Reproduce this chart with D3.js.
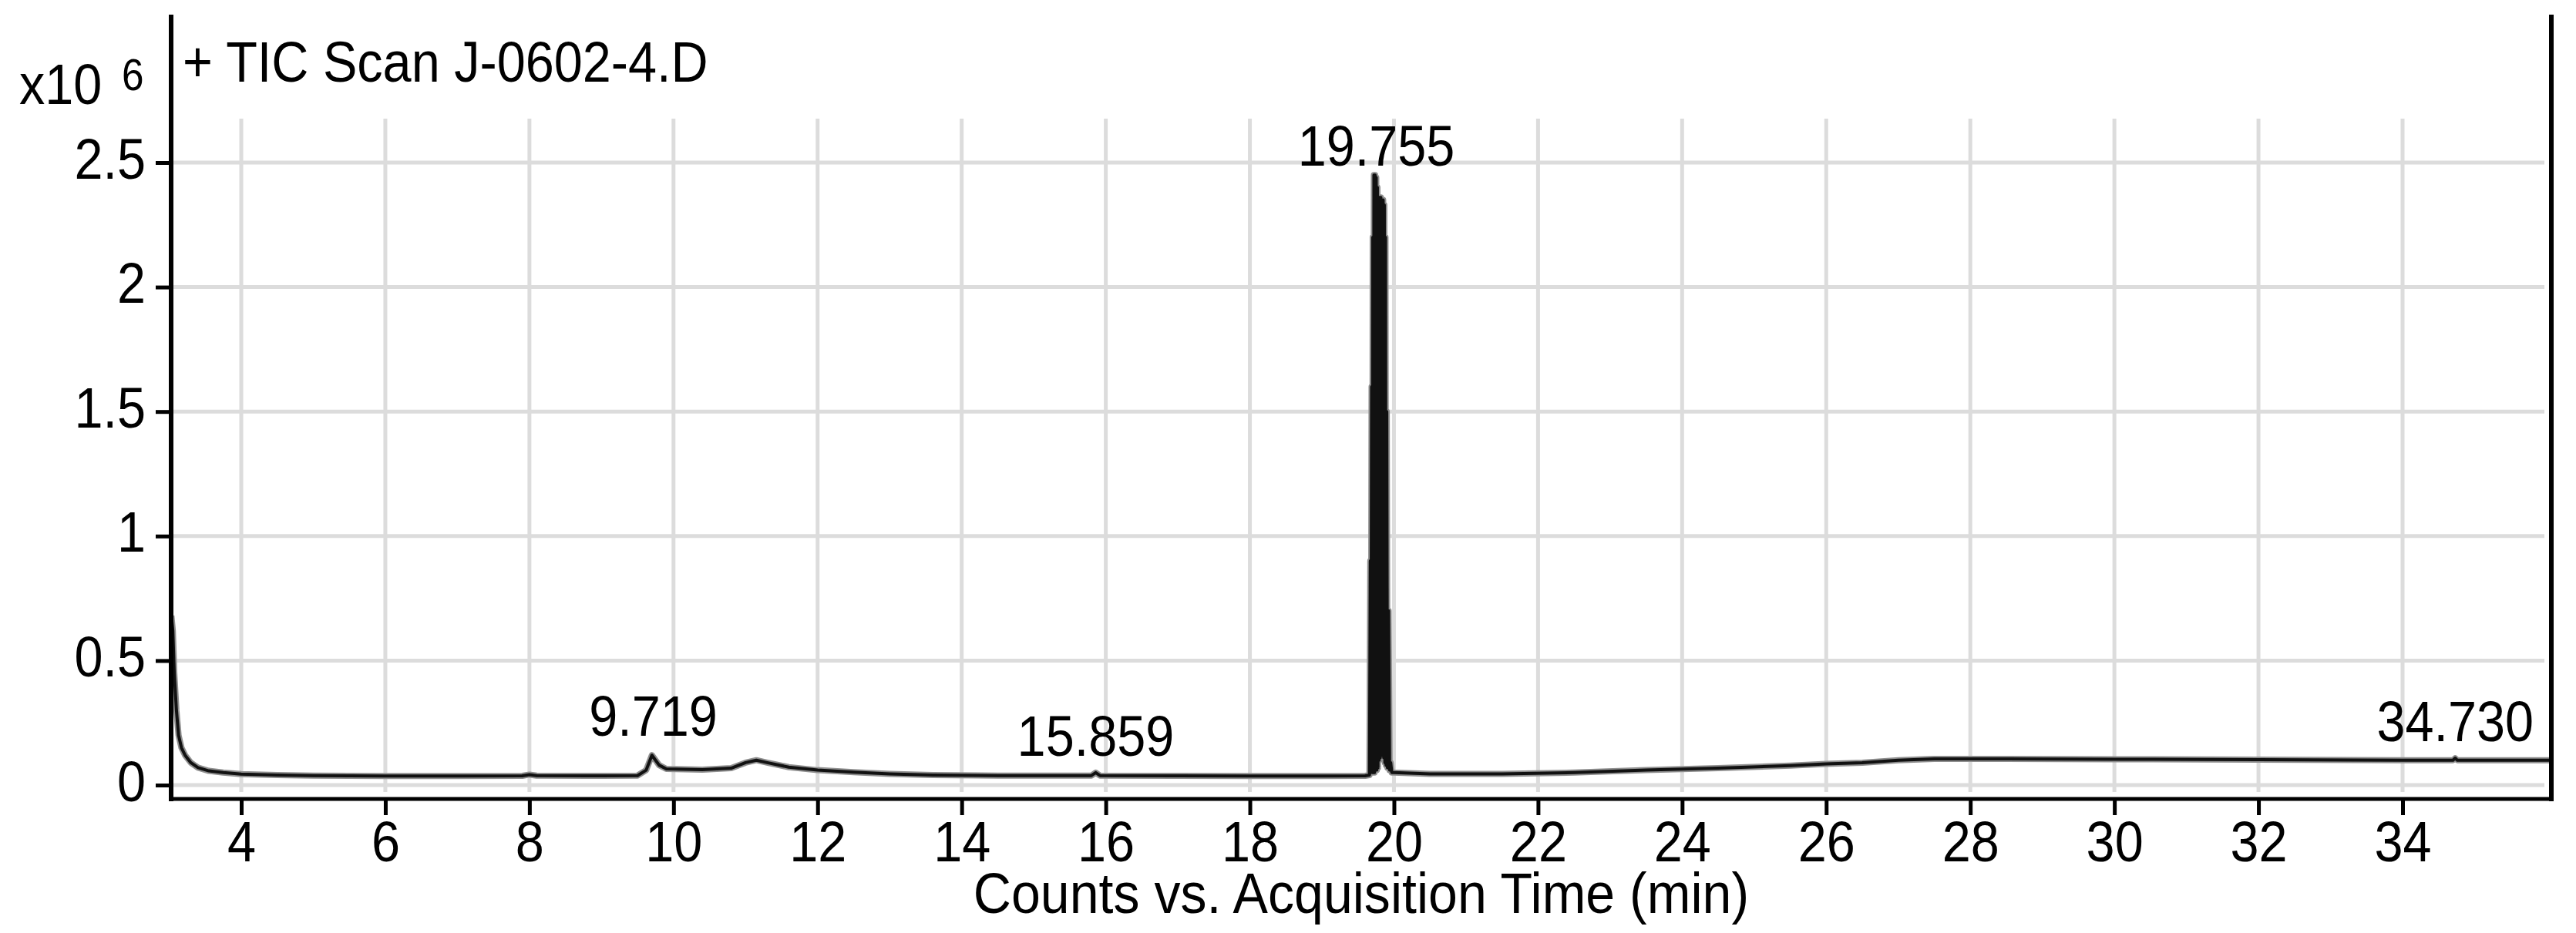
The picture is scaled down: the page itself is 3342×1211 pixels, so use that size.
<!DOCTYPE html>
<html>
<head>
<meta charset="utf-8">
<script src="https://cdn.jsdelivr.net/npm/d3@7"></script>
<style>
  html, body { margin: 0; padding: 0; background: #fff; }
  svg { display: block; }
  text { font-family: "Liberation Sans", Arial, sans-serif; fill: #000; }
</style>
</head>
<body>
<script>
// ---------- data (counts in units of 10^6, time in minutes) ----------
const timeMin = [
  3.03, 3.05, 3.07, 3.10, 3.13, 3.17, 3.22, 3.30, 3.40, 3.55, 3.75, 4.00, 4.50, 5.00, 6.00, 7.00,
  7.90, 8.00, 8.10, 9.00, 9.50, 9.62, 9.70, 9.80, 9.90, 10.40, 10.80, 11.00, 11.15, 11.30, 11.60,
  12.00, 12.50, 13.00, 13.60, 14.50, 15.80, 15.86, 15.92, 17.00, 18.00, 19.00, 19.60,
  19.660, 19.672, 19.680, 19.690, 19.698, 19.706, 19.714, 19.722, 19.730, 19.738, 19.746, 19.754,
  19.762, 19.770, 19.778, 19.786, 19.794, 19.802, 19.810, 19.818, 19.826, 19.834, 19.842, 19.850,
  19.858, 19.866, 19.874, 19.882, 19.890, 19.900, 19.910, 19.925, 19.940, 19.955, 19.970,
  20.00, 20.50, 21.50, 22.50, 23.50, 24.50, 25.50, 26.00, 26.50, 27.00, 27.50, 28.50, 30.00, 32.00,
  34.00, 34.70, 34.73, 34.76, 36.06
];
const countsE6 = [
  0.68, 0.62, 0.45, 0.30, 0.20, 0.15, 0.12, 0.09, 0.07, 0.057, 0.050, 0.044, 0.040, 0.038, 0.036, 0.036,
  0.037, 0.042, 0.038, 0.037, 0.038, 0.060, 0.120, 0.080, 0.065, 0.062, 0.068, 0.090, 0.100, 0.090, 0.072,
  0.060, 0.052, 0.045, 0.040, 0.038, 0.038, 0.050, 0.038, 0.037, 0.036, 0.036, 0.037,
  0.040, 0.90, 0.05, 1.60, 0.05, 2.20, 0.05, 2.45, 0.05, 2.45, 0.06, 2.44,
  0.06, 2.40, 0.07, 2.36, 0.10, 2.36, 0.11, 2.36, 0.12, 2.35, 0.12, 2.35,
  0.11, 2.33, 0.09, 2.20, 0.08, 1.50, 0.07, 0.70, 0.06, 0.09, 0.05,
  0.050, 0.045, 0.045, 0.050, 0.060, 0.068, 0.078, 0.085, 0.090, 0.100, 0.105, 0.105, 0.104, 0.102,
  0.100, 0.100, 0.108, 0.100, 0.100
];
const peakTimes  = ["9.719", "15.859", "19.755", "34.730"];
const peakHeight = [0.12, 0.04, 2.41, 0.10];   // apex height (x10^6) where the label sits
const xTicks = [4, 6, 8, 10, 12, 14, 16, 18, 20, 22, 24, 26, 28, 30, 32, 34];
const yTicks = [0, 0.5, 1, 1.5, 2, 2.5];
const titleText = "+ TIC Scan J-0602-4.D";
const xAxisTitle = "Counts vs. Acquisition Time (min)";
const yUnitBase = "x10";
const yUnitExp = "6";

// ---------- layout ----------
const W = 3342, H = 1211;
const frame = { left: 222, right: 3310, top: 22, bottom: 1037 };
const gridTop = 154, gridBottom = 1028, gridRight = 3301;
const FS = 74, SX = 0.9;   // font size and horizontal condensing
const gridColor = "#dcdcdc";

const x = d3.scaleLinear().domain([4, 34]).range([313, 3117]);
const y = d3.scaleLinear().domain([0, 2.5]).range([1019, 211]);

const svg = d3.select("body").append("svg").attr("width", W).attr("height", H);

function label(g, px, py, txt, anchor, size, sx) {
  const t = g.append("g").attr("transform", `translate(${px},${py}) scale(${sx || SX},1)`);
  t.append("text").attr("text-anchor", anchor).attr("font-size", size || FS).text(txt);
  return t;
}

// ---------- grid ----------
const grid = svg.append("g");
grid.selectAll("line.v").data(xTicks).join("line")
  .attr("x1", d => x(d)).attr("x2", d => x(d))
  .attr("y1", gridTop).attr("y2", gridBottom)
  .attr("stroke", gridColor).attr("stroke-width", 5);
grid.selectAll("line.h").data(yTicks).join("line")
  .attr("x1", frame.left).attr("x2", gridRight)
  .attr("y1", d => y(d)).attr("y2", d => y(d))
  .attr("stroke", gridColor).attr("stroke-width", 5);

// ---------- trace ----------
svg.append("clipPath").attr("id", "clip").append("rect")
  .attr("x", frame.left).attr("y", frame.top)
  .attr("width", frame.right - frame.left).attr("height", frame.bottom - frame.top);

const pts = timeMin.map((t, i) => [t, countsE6[i]]);
const line = d3.line().x(d => x(d[0])).y(d => y(d[1]));
const trace = svg.append("g").attr("clip-path", "url(#clip)");
trace.append("path").attr("d", line(pts)).attr("fill", "none")
  .attr("stroke", "#8f8f8f").attr("stroke-width", 8).attr("stroke-linejoin", "round");
trace.append("path").attr("d", line(pts)).attr("fill", "none")
  .attr("stroke", "#111").attr("stroke-width", 4).attr("stroke-linejoin", "round");

// ---------- axes ----------
const yAxis = svg.append("g").attr("transform", `translate(${frame.left},0)`)
  .call(d3.axisLeft(y).tickValues(yTicks).tickSize(20).tickSizeOuter(0).tickFormat(d3.format("~g")));
yAxis.select(".domain").remove();
yAxis.selectAll(".tick line").attr("stroke", "#000").attr("stroke-width", 5);
yAxis.selectAll(".tick text")
  .attr("font-size", FS).attr("font-family", "Liberation Sans, Arial, sans-serif")
  .attr("transform", `scale(${SX},1)`)
  .attr("x", -33 / SX).attr("y", 20).attr("dy", 0).attr("text-anchor", "end").attr("fill", "#000");

const xAxis = svg.append("g").attr("transform", `translate(0,${frame.bottom})`)
  .call(d3.axisBottom(x).tickValues(xTicks).tickSize(21).tickSizeOuter(0).tickFormat(d3.format("d")));
xAxis.select(".domain").remove();
xAxis.selectAll(".tick line").attr("stroke", "#000").attr("stroke-width", 5);
xAxis.selectAll(".tick text")
  .attr("font-size", FS).attr("font-family", "Liberation Sans, Arial, sans-serif")
  .attr("transform", `scale(${SX},1)`)
  .attr("x", 0).attr("y", 81).attr("dy", 0).attr("text-anchor", "middle").attr("fill", "#000");

// frame lines (left, bottom, right; no top)
const fr = svg.append("g").attr("stroke", "#000").attr("stroke-linecap", "square");
fr.append("line").attr("x1", frame.left).attr("x2", frame.left).attr("y1", frame.top).attr("y2", frame.bottom).attr("stroke-width", 6);
fr.append("line").attr("x1", frame.right).attr("x2", frame.right).attr("y1", frame.top).attr("y2", frame.bottom).attr("stroke-width", 6);
fr.append("line").attr("x1", frame.left).attr("x2", frame.right).attr("y1", frame.bottom).attr("y2", frame.bottom).attr("stroke-width", 5);

// ---------- texts ----------
label(svg, 237, 106, titleText, "start");
label(svg, 25, 135, yUnitBase, "start");
label(svg, 158, 117, yUnitExp, "start", 57);
label(svg, (frame.left + frame.right) / 2, 1185, xAxisTitle, "middle", FS, 0.92);

svg.append("g").selectAll("g").data(peakTimes).join("g")
  .each(function (d, i) {
    label(d3.select(this), x(+d), y(peakHeight[i]) - 25, d, "middle");
  });
</script>
</body>
</html>
